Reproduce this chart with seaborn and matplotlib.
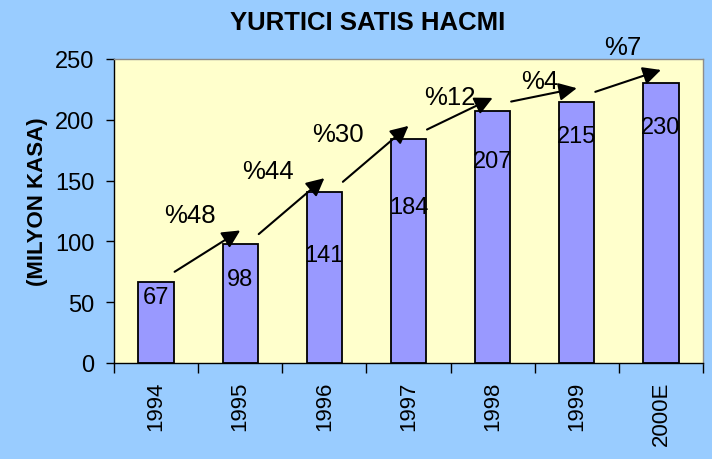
import matplotlib
matplotlib.use("Agg")
import matplotlib.pyplot as plt
import seaborn as sns

sns.set_style("white")
plt.rcParams['font.family'] = ['Liberation Sans', 'DejaVu Sans']
plt.rcParams.update({"text.color": "black", "axes.labelcolor": "black",
                     "xtick.color": "black", "ytick.color": "black"})

# veriler
years = ["1994", "1995", "1996", "1997", "1998", "1999", "2000E"]
volume = [67, 98, 141, 184, 207, 215, 230]
growth = ["%48", "%44", "%30", "%12", "%4", "%7"]

# etiket yerlesimi (sadece gorunum icin)
label_drop = [13, 29, 52, 56, 41, 28, 36]
pct_nudge = [(-0.05, 7), (-0.12, 0), (-0.29, -13), (0.04, -5), (0.11, 0), (0.10, 13)]

fig = plt.figure(figsize=(7.12, 4.6), dpi=100, facecolor="#99CCFF")
ax = fig.add_axes([114 / 712, 1 - 364 / 460, 589 / 712, 304 / 460])
ax.set_facecolor("#FFFFCC")

sns.barplot(x=years, y=volume, color="#9999FF", edgecolor="black",
            linewidth=1.3, width=0.42, saturation=1, ax=ax)

ax.set_xlim(-0.5, 6.5)
ax.set_ylim(0, 250)
ax.set_yticks(range(0, 251, 50))
ax.tick_params(axis="y", labelsize=17, length=6, width=1, direction="out", pad=8, left=True)
ax.tick_params(axis="x", which="major", length=0, labelsize=16, pad=13, labelrotation=90)
ax.set_xticks([i - 0.5 for i in range(len(years) + 1)], minor=True)
ax.tick_params(axis="x", which="minor", length=7, width=1, direction="out", bottom=True)
ax.set_xlabel("")

for s in ["left", "bottom"]:
    ax.spines[s].set_color("black")
    ax.spines[s].set_linewidth(1)
for s in ["top", "right"]:
    ax.spines[s].set_color("#8c8c8c")
    ax.spines[s].set_linewidth(1)

ax.set_ylabel("(MILYON KASA)", fontsize=16, fontweight="bold")
ax.yaxis.set_label_coords(-0.112, 0.535)

# bar icindeki degerler
for i, v in enumerate(volume):
    ax.text(i, v - label_drop[i], str(v), ha="center", va="center", fontsize=17)

# buyume oklari
for i, g in enumerate(growth):
    x0, y0 = i + 0.22, volume[i] + 8
    x1, y1 = i + 1.0, volume[i + 1] + 11
    ax.annotate("", xy=(x1, y1), xytext=(x0, y0),
                arrowprops=dict(arrowstyle="-|>", color="black", lw=1.5,
                                mutation_scale=27, shrinkA=0, shrinkB=0),
                annotation_clip=False)
    dx, dy = pct_nudge[i]
    ax.text(i + 0.45 + dx, volume[i + 1] + 17 + dy, g, ha="center", va="center",
            fontsize=18.5, clip_on=False)

fig.text(0.516, 0.95, "YURTICI SATIS HACMI", ha="center", va="center",
         fontsize=18.5, fontweight="bold")

fig.savefig("out.png", dpi=100, facecolor=fig.get_facecolor())
